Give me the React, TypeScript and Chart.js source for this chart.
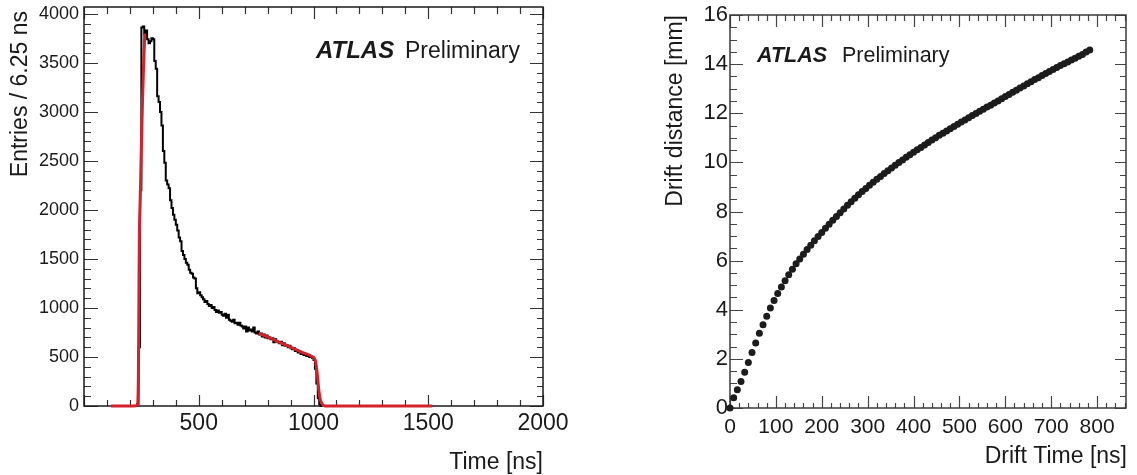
import { useEffect, useRef } from 'react';
import { Chart, registerables } from 'chart.js';

Chart.register(...registerables);

const FONT = '"Liberation Sans", Arial, Helvetica, sans-serif';
const TEXT = '#1a1a1a';
const RED = '#d3232a';

// ---------- Left panel: drift-time spectrum ----------
const leftXTicks = [500, 1000, 1500, 2000];
const leftYTicks = [0, 500, 1000, 1500, 2000, 2500, 3000, 3500, 4000];
const HIST_START_NS = 231.25;
const HIST_BIN_NS = 6.25;
const histCounts = [
  0, 20, 600, 2200, 3860, 3870, 3790, 3830, 3740, 3700, 3720, 3750, 3740, 3520, 3440, 3160,
  3100, 3000, 2860, 2600, 2480, 2300, 2260, 2220, 2100, 2020, 1950, 1900, 1850, 1790, 1720, 1680,
  1580, 1540, 1500, 1460, 1440, 1390, 1360, 1350, 1310, 1300, 1200, 1150, 1160, 1130, 1110, 1090,
  1060, 1070, 1040, 1020, 1030, 1000, 1010, 980, 960, 975, 950, 960, 930, 920, 940, 900,
  930, 880, 870, 860, 880, 845, 850, 830, 850, 820, 810, 790, 810, 760, 800, 770,
  780, 760, 800, 750, 740, 760, 730, 740, 710, 730, 700, 720, 690, 700, 680, 690,
  650, 680, 660, 650, 640, 655, 620, 640, 615, 620, 600, 615, 590, 580, 590, 560,
  570, 545, 555, 530, 540, 520, 530, 510, 520, 500, 505, 490, 470, 380, 230, 80, 15,
];
const t0FitTimes = [117, 200, 228, 233, 235, 237, 239, 241, 245, 250, 255, 260, 265];
const t0FitValues = [0, 0, 3, 15, 60, 300, 1000, 1700, 2100, 2650, 3120, 3500, 3800];
const tmaxFitTimes = [761, 800, 850, 900, 950, 997, 1003, 1009, 1013, 1016, 1020, 1023, 1027, 1030, 1037, 1045, 1060, 1517];
const tmaxFitValues = [742, 705, 652, 600, 548, 500, 488, 455, 390, 335, 240, 165, 100, 62, 22, 5, 0, 0];

// ---------- Right panel: r-t relation ----------
const rightXTicks = [0, 100, 200, 300, 400, 500, 600, 700, 800];
const rightYTicks = [0, 2, 4, 6, 8, 10, 12, 14, 16];
const driftTimes = [
  0, 8, 16, 24, 32, 40, 48, 56, 64, 72, 80, 88, 96, 104, 112, 120, 128, 136, 144, 152,
  160, 168, 176, 184, 192, 200, 208, 216, 224, 232, 240, 248, 256, 264, 272, 280, 288, 296, 304, 312,
  320, 328, 336, 344, 352, 360, 368, 376, 384, 392, 400, 408, 416, 424, 432, 440, 448, 456, 464, 472,
  480, 488, 496, 504, 512, 520, 528, 536, 544, 552, 560, 568, 576, 584, 592, 600, 608, 616, 624, 632,
  640, 648, 656, 664, 672, 680, 688, 696, 704, 712, 720, 728, 736, 744, 752, 760, 768, 776, 784,
];
const driftDistances = [
  0, 0.42, 0.74, 1.08, 1.46, 1.85, 2.26, 2.65, 3.04, 3.39, 3.74, 4.07, 4.38, 4.66, 4.93, 5.18, 5.42, 5.65, 5.87, 6.07,
  6.26, 6.45, 6.63, 6.81, 6.98, 7.15, 7.32, 7.48, 7.64, 7.8, 7.95, 8.1, 8.25, 8.4, 8.54, 8.68, 8.81, 8.94, 9.07, 9.19,
  9.31, 9.43, 9.55, 9.66, 9.77, 9.88, 9.99, 10.1, 10.21, 10.31, 10.41, 10.51, 10.61, 10.71, 10.81, 10.91, 11.0, 11.1, 11.19, 11.28,
  11.37, 11.46, 11.55, 11.64, 11.73, 11.82, 11.91, 11.99, 12.08, 12.16, 12.25, 12.33, 12.42, 12.5, 12.59, 12.68, 12.76, 12.85, 12.94, 13.03,
  13.11, 13.2, 13.28, 13.37, 13.45, 13.54, 13.62, 13.7, 13.78, 13.86, 13.94, 14.02, 14.09, 14.17, 14.24, 14.32, 14.39, 14.49, 14.57,
];

type TextItem = { text: string; x: number; y: number; font: string; align: CanvasTextAlign; rotate?: boolean };
type AxisTickSpec = { minor: number; major: number; majA: number; minA: number; majB: number; minB: number };
type FrameOpts = { x: AxisTickSpec; y: AxisTickSpec; frameColor: string; tickColor: string; texts: TextItem[] };

function isMultiple(v: number, step: number) {
  const r = v / step;
  return Math.abs(r - Math.round(r)) < 1e-6;
}

function makeFramePlugin(opts: FrameOpts) {
  return {
    id: 'rootFrame',
    beforeDatasetsDraw(chart: any) {
      const { ctx, chartArea: a, scales } = chart;
      const xs = scales.x;
      const ys = scales.y;
      ctx.save();
      ctx.strokeStyle = opts.tickColor;
      ctx.lineWidth = 1.2;
      ctx.beginPath();
      const nx = Math.floor((xs.max - xs.min) / opts.x.minor + 1e-6);
      for (let i = 0; i <= nx; i++) {
        const v = xs.min + i * opts.x.minor;
        const px = Math.round(xs.getPixelForValue(v)) + 0.5;
        const maj = isMultiple(v, opts.x.major);
        ctx.moveTo(px, a.bottom);
        ctx.lineTo(px, a.bottom - (maj ? opts.x.majA : opts.x.minA));
        ctx.moveTo(px, a.top);
        ctx.lineTo(px, a.top + (maj ? opts.x.majB : opts.x.minB));
      }
      const ny = Math.floor((ys.max - ys.min) / opts.y.minor + 1e-6);
      for (let i = 0; i <= ny; i++) {
        const v = ys.min + i * opts.y.minor;
        const py = Math.round(ys.getPixelForValue(v)) + 0.5;
        const maj = isMultiple(v, opts.y.major);
        ctx.moveTo(a.left, py);
        ctx.lineTo(a.left + (maj ? opts.y.majA : opts.y.minA), py);
        ctx.moveTo(a.right, py);
        ctx.lineTo(a.right - (maj ? opts.y.majB : opts.y.minB), py);
      }
      ctx.stroke();
      ctx.strokeStyle = opts.frameColor;
      ctx.lineWidth = 1.5;
      ctx.strokeRect(a.left, a.top, a.right - a.left, a.bottom - a.top);
      ctx.restore();
    },
    afterDraw(chart: any) {
      const { ctx } = chart;
      ctx.save();
      ctx.fillStyle = TEXT;
      ctx.textBaseline = 'alphabetic';
      for (const t of opts.texts) {
        ctx.font = t.font;
        ctx.textAlign = t.align;
        if (t.rotate) {
          ctx.save();
          ctx.translate(t.x, t.y);
          ctx.rotate(-Math.PI / 2);
          ctx.fillText(t.text, 0, 0);
          ctx.restore();
        } else {
          ctx.fillText(t.text, t.x, t.y);
        }
      }
      ctx.restore();
    },
  };
}

const fixedTicks = (values: number[]) => (scale: any) => {
  scale.ticks = values.map((v) => ({ value: v }));
};
const fitY = (width: number) => (s: any) => {
  s.width = width;
  s.paddingTop = 0;
  s.paddingBottom = 0;
};
const fitX = (height: number) => (s: any) => {
  s.height = height;
  s.paddingLeft = 0;
  s.paddingRight = 0;
};

const LEFT_W = 580;
const RIGHT_X = 600;
const RIGHT_W = 537;
const H = 475;

export default function App() {
  const leftRef = useRef<HTMLCanvasElement>(null);
  const rightRef = useRef<HTMLCanvasElement>(null);

  useEffect(() => {
    const histPoints: { x: number; y: number }[] = [{ x: HIST_START_NS - HIST_BIN_NS, y: 0 }];
    histCounts.forEach((c, i) => histPoints.push({ x: HIST_START_NS + i * HIST_BIN_NS, y: c }));
    histPoints.push({ x: HIST_START_NS + histCounts.length * HIST_BIN_NS, y: 0 });
    const t0Points = t0FitTimes.map((t, i) => ({ x: t, y: t0FitValues[i] }));
    const tmaxPoints = tmaxFitTimes.map((t, i) => ({ x: t, y: tmaxFitValues[i] }));

    const leftFrame = makeFramePlugin({
      x: { minor: 100, major: 500, majA: 11, minA: 6, majB: 12, minB: 7 },
      y: { minor: 100, major: 500, majA: 14, minA: 7, majB: 13, minB: 6 },
      frameColor: '#1a1a1a',
      tickColor: '#333',
      texts: [
        { text: 'Entries / 6.25 ns', x: 27, y: 11, font: `23px ${FONT}`, align: 'right', rotate: true },
        { text: 'Time [ns]', x: 543, y: 469, font: `23px ${FONT}`, align: 'right' },
        { text: 'ATLAS', x: 316, y: 58, font: `italic bold 24px ${FONT}`, align: 'left' },
        { text: 'Preliminary', x: 405, y: 58, font: `23px ${FONT}`, align: 'left' },
      ],
    });

    const left = new Chart(leftRef.current!, {
      type: 'line',
      data: {
        datasets: [
          { label: 't0 fit', data: t0Points, borderColor: RED, borderWidth: 3, pointRadius: 0, cubicInterpolationMode: 'monotone', clip: false as any, fill: false },
          { label: 'tmax fit', data: tmaxPoints, borderColor: RED, borderWidth: 3, pointRadius: 0, cubicInterpolationMode: 'monotone', clip: false as any, fill: false },
          { label: 'Entries', data: histPoints, borderColor: '#000', borderWidth: 2, pointRadius: 0, stepped: 'after', clip: false as any, fill: false },
        ],
      },
      options: {
        animation: false,
        responsive: false,
        maintainAspectRatio: false,
        events: [],
        layout: { padding: { left: 0, top: 7, right: LEFT_W - 543, bottom: 0 } },
        plugins: { legend: { display: false }, tooltip: { enabled: false } },
        scales: {
          x: {
            type: 'linear', min: 0, max: 2000,
            grid: { display: false, drawTicks: false, tickLength: 0 },
            border: { display: false },
            afterBuildTicks: fixedTicks(leftXTicks),
            ticks: {
              autoSkip: false, maxRotation: 0, padding: 4,
              color: TEXT, font: { family: FONT, size: 23 },
              callback: (v: any) => String(v),
            },
            afterFit: fitX(H - 406),
          },
          y: {
            type: 'linear', min: 0, max: 4070,
            grid: { display: false, drawTicks: false, tickLength: 0 },
            border: { display: false },
            afterBuildTicks: fixedTicks(leftYTicks),
            ticks: {
              autoSkip: false, padding: 5,
              color: TEXT, font: { family: FONT, size: 18 },
              callback: (v: any) => String(v),
            },
            afterFit: fitY(84),
          },
        },
      },
      plugins: [leftFrame],
    });

    const off = RIGHT_X;
    const rightFrame = makeFramePlugin({
      x: { minor: 20, major: 100, majA: 12, minA: 5, majB: 12, minB: 6 },
      y: { minor: 0.5, major: 2, majA: 13, minA: 7, majB: 11, minB: 6 },
      frameColor: '#3a3a3a',
      tickColor: '#444',
      texts: [
        { text: 'Drift distance [mm]', x: 682 - off, y: 15, font: `23px ${FONT}`, align: 'right', rotate: true },
        { text: 'Drift Time [ns]', x: 1127 - off, y: 463, font: `23px ${FONT}`, align: 'right' },
        { text: 'ATLAS', x: 757 - off, y: 62, font: `italic bold 21.5px ${FONT}`, align: 'left' },
        { text: 'Preliminary', x: 842 - off, y: 62, font: `21.5px ${FONT}`, align: 'left' },
      ],
    });

    const right = new Chart(rightRef.current!, {
      type: 'scatter',
      data: {
        datasets: [
          {
            label: 'r-t',
            data: driftTimes.map((t, i) => ({ x: t, y: driftDistances[i] })),
            pointRadius: 3.5,
            pointBackgroundColor: '#1c1c1c',
            pointBorderWidth: 0,
            borderWidth: 0,
            clip: false as any,
          },
        ],
      },
      options: {
        animation: false,
        responsive: false,
        maintainAspectRatio: false,
        events: [],
        layout: { padding: { left: 0, top: 15, right: RIGHT_W - (1126 - off), bottom: 0 } },
        plugins: { legend: { display: false }, tooltip: { enabled: false } },
        scales: {
          x: {
            type: 'linear', min: 0, max: 863,
            grid: { display: false, drawTicks: false, tickLength: 0 },
            border: { display: false },
            afterBuildTicks: fixedTicks(rightXTicks),
            ticks: {
              autoSkip: false, maxRotation: 0, padding: 7,
              color: TEXT, font: { family: FONT, size: 21 },
              callback: (v: any) => String(v),
            },
            afterFit: fitX(H - 408),
          },
          y: {
            type: 'linear', min: 0, max: 16,
            grid: { display: false, drawTicks: false, tickLength: 0 },
            border: { display: false },
            afterBuildTicks: fixedTicks(rightYTicks),
            ticks: {
              autoSkip: false, padding: 2,
              color: TEXT, font: { family: FONT, size: 22 },
              callback: (v: any) => String(v),
            },
            afterFit: fitY(730 - off),
          },
        },
      },
      plugins: [rightFrame],
    });

    return () => {
      left.destroy();
      right.destroy();
    };
  }, []);

  return (
    <div style={{ position: 'absolute', left: 0, top: 0, width: 1137, height: H, background: '#fff' }}>
      <canvas ref={leftRef} width={LEFT_W} height={H} style={{ position: 'absolute', left: 0, top: 0, width: LEFT_W, height: H, display: 'block' }} />
      <canvas ref={rightRef} width={RIGHT_W} height={H} style={{ position: 'absolute', left: RIGHT_X, top: 0, width: RIGHT_W, height: H, display: 'block' }} />
    </div>
  );
}
